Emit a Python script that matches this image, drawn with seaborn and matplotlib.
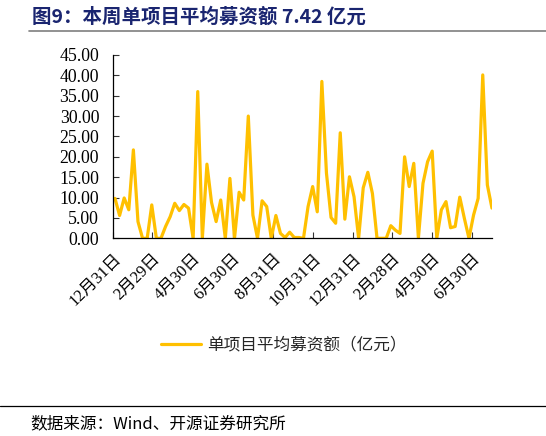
import pandas as pd
import matplotlib
matplotlib.use('Agg')
import matplotlib.pyplot as plt
import seaborn as sns

# weekly average fundraising per project (亿元)
values = [9.8, 5.6, 9.9, 7.0, 21.7, 4.1, 0.0, 0.0, 8.2, 0.0,
          0.0, 2.9, 5.3, 8.6, 6.8, 8.3, 7.4, 0.0, 36.0, 0.0,
          18.2, 8.8, 4.1, 9.4, 0.0, 14.7, 0.0, 11.3, 9.4, 30.0,
          5.7, 0.0, 9.2, 7.8, 0.0, 5.6, 1.2, 0.2, 1.5, 0.2,
          0.2, 0.0, 7.8, 12.7, 6.5, 38.5, 16.0, 5.1, 3.7, 25.9,
          4.7, 15.1, 10.2, 0.0, 12.4, 16.2, 11.0, 0.0, 0.0, 0.0,
          3.1, 2.0, 1.2, 20.0, 12.7, 18.4, 0.0, 13.5, 18.8, 21.4,
          0.0, 7.0, 9.0, 2.6, 2.9, 10.1, 4.9, 0.0, 5.7, 9.8,
          40.1, 13.1, 7.42]
dates = pd.date_range('2020-01-03', periods=len(values), freq='7D')

tick_dates = ['2019-12-31', '2020-02-29', '2020-04-30', '2020-06-30', '2020-08-31',
              '2020-10-31', '2020-12-31', '2021-02-28', '2021-04-30', '2021-06-30']
tick_labels = ['12月31日', '2月29日', '4月30日', '6月30日', '8月31日',
               '10月31日', '12月31日', '2月28日', '4月30日', '6月30日']
series_name = '单项目平均募资额（亿元）'

df = pd.DataFrame({'date': dates, 'value': values})

sns.set_style('ticks')
plt.rcParams['font.family'] = ['Liberation Serif', 'Noto Sans CJK SC', 'DejaVu Sans']
mix = ['Liberation Serif', 'Noto Sans CJK SC']
cjk = ['Noto Sans CJK SC', 'Liberation Serif']

fig = plt.figure(figsize=(5.46, 4.36), dpi=100)
ax = fig.add_axes([0.207, 0.4534, 0.694, 0.4206])

sns.lineplot(data=df, x='date', y='value', ax=ax, color='#FFC000', linewidth=2.3,
             label=series_name)

ax.set_ylim(0, 45)
ax.set_yticks(range(0, 46, 5))
ax.set_yticklabels([f'{v:.2f}' for v in range(0, 46, 5)], fontsize=12.8, family=mix)
ax.set_xlim(pd.Timestamp('2019-12-31'), dates[-1])
ax.set_xticks(pd.to_datetime(tick_dates))
ax.set_xticklabels(tick_labels, rotation=45, ha='right', rotation_mode='anchor',
                   fontsize=12, family=mix)
ax.tick_params(direction='in', length=4, width=0.8, colors='#333333', labelcolor='black')
ax.tick_params(axis='y', pad=10)
ax.tick_params(axis='x', pad=9)
ax.set_xlabel('')
ax.set_ylabel('')
for s in ['top', 'right']:
    ax.spines[s].set_visible(False)
for s in ['left', 'bottom']:
    ax.spines[s].set_color('black')
    ax.spines[s].set_linewidth(0.9)

ax.legend(loc='center', bbox_to_anchor=(0.52, 0.209), bbox_transform=fig.transFigure,
          frameon=False, handlelength=2.4, handletextpad=0.4,
          prop={'family': cjk, 'size': 12})

fig.text(0.058, 0.962, '图9：本周单项目平均募资额 7.42 亿元', fontsize=14, fontweight='bold',
         color='#1A2570', va='center', ha='left', family=['Noto Sans CJK SC', 'Liberation Serif'])
fig.add_artist(plt.Line2D([0.053, 1.0], [0.929, 0.929], transform=fig.transFigure,
                          color='#7f7f7f', linewidth=1.2))
fig.add_artist(plt.Line2D([0.0, 1.0], [0.069, 0.069], transform=fig.transFigure,
                          color='black', linewidth=0.9))
fig.text(0.055, 0.028, '数据来源：Wind、开源证券研究所', fontsize=12, color='black',
         va='center', ha='left', family=cjk)

fig.savefig('out.png', dpi=100)
